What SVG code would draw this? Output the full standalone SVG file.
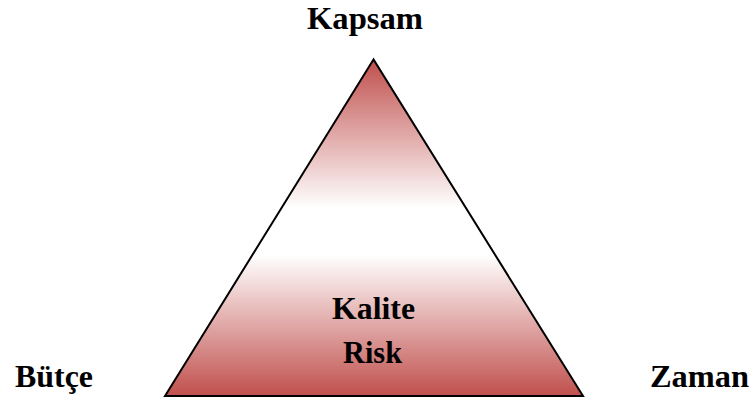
<svg xmlns="http://www.w3.org/2000/svg" width="754" height="402" viewBox="0 0 754 402">
<style>
.lbl{font-family:"Liberation Serif","DejaVu Serif",serif;font-weight:bold;font-size:32px;fill:#000;text-anchor:middle}
</style>
<defs>
<linearGradient id="g" x1="0" y1="60" x2="0" y2="396" gradientUnits="userSpaceOnUse">
<stop offset="0" stop-color="#c0504d"/>
<stop offset="0.44" stop-color="#ffffff"/>
<stop offset="0.58" stop-color="#ffffff"/>
<stop offset="1" stop-color="#c0504d"/>
</linearGradient>
</defs>
<rect width="754" height="402" fill="#fff"/>
<g id="triangle">
<polygon points="373.5,59.5 165,396 583,396" fill="url(#g)" stroke="#000" stroke-width="2" stroke-linejoin="miter"/>
<text class="lbl" x="373.5" y="319" textLength="83" lengthAdjust="spacingAndGlyphs">Kalite</text>
<text class="lbl" x="372.5" y="363" textLength="59" lengthAdjust="spacingAndGlyphs">Risk</text>
</g>
<g id="kapsam"><text class="lbl" x="365" y="29" textLength="116" lengthAdjust="spacingAndGlyphs">Kapsam</text></g>
<g id="butce"><text class="lbl" x="54" y="387" textLength="78" lengthAdjust="spacingAndGlyphs">Bütçe</text></g>
<g id="zaman"><text class="lbl" x="699.5" y="387" textLength="99" lengthAdjust="spacingAndGlyphs">Zaman</text></g>
<g id="connectors"/>
</svg>
